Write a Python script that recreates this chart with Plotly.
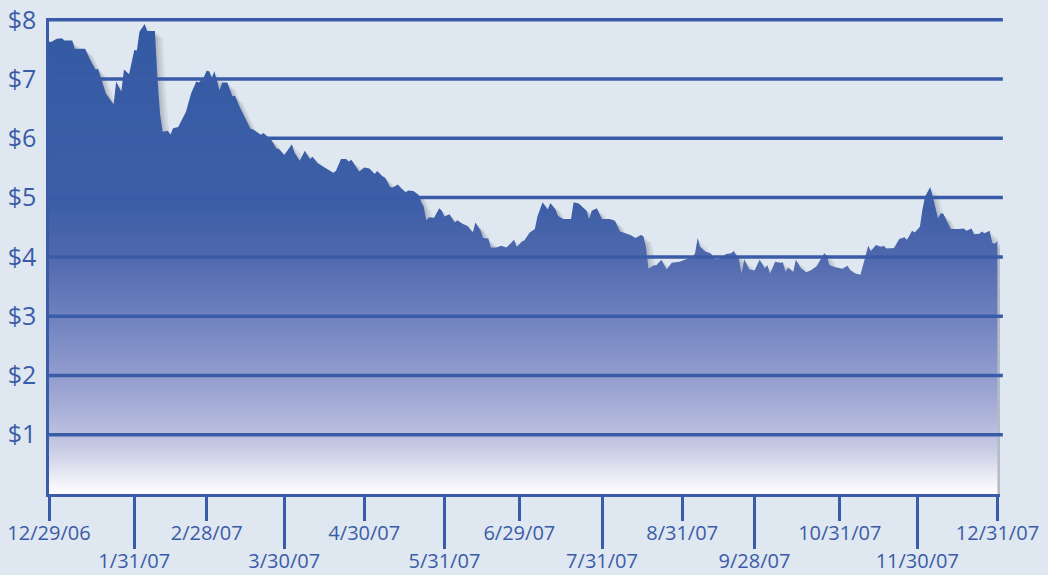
import pandas as pd
import plotly.graph_objects as go

start_date = "2006-12-29"

day_offsets = [0, 1, 3, 5, 6, 9, 10, 14, 16, 18, 19, 20, 22, 25, 26, 27, 28, 29, 31, 33, 34, 35, 37, 38, 41, 42, 43, 44,
               46, 47, 48, 50, 53, 55, 57, 58, 60, 61, 62, 63, 64, 66, 67, 69, 71, 72, 74, 78, 79, 82, 83, 86, 88, 89,
               91, 94, 95, 97, 99, 101, 102, 104, 108, 110, 111, 113, 115, 116, 117, 119, 120, 122, 124, 126, 127, 129,
               130, 132, 133, 135, 136, 138, 139, 141, 143, 144, 145, 146, 147, 149, 151, 152, 153, 155, 157, 158, 160,
               162, 164, 165, 167, 168, 170, 171, 173, 175, 176, 177, 178, 180, 181, 183, 184, 186, 188, 189, 191, 193,
               194, 196, 197, 199, 202, 203, 205, 208, 209, 210, 212, 214, 217, 219, 221, 223, 225, 227, 229, 230, 231,
               232, 234, 235, 237, 239, 241, 244, 246, 247, 249, 250, 251, 252, 254, 256, 258, 260, 262, 264, 265, 266,
               267, 268, 269, 271, 273, 275, 277, 278, 279, 281, 283, 284, 285, 286, 288, 289, 291, 293, 295, 297, 299,
               300, 301, 302, 304, 307, 309, 310, 312, 314, 316, 317, 318, 320, 322, 323, 324, 327, 329, 331, 332, 334,
               335, 337, 338, 339, 341, 342, 344, 345, 346, 348, 349, 352, 354, 355, 357, 358, 360, 361, 362, 364, 365,
               366, 367]

prices = [7.63, 7.63, 7.68, 7.69, 7.65, 7.65, 7.51, 7.51, 7.32, 7.16, 7.17, 7.02, 6.76, 6.57, 6.96, 6.87, 6.79, 7.16,
          7.08, 7.49, 7.48, 7.80, 7.93, 7.81, 7.81, 7.00, 6.40, 6.11,
          6.13, 6.06, 6.17, 6.19, 6.45, 6.76, 6.96, 6.94, 7.04, 7.14, 7.13, 7.02, 7.13, 6.81, 6.94, 6.94, 6.71, 6.72,
          6.51, 6.16, 6.15, 6.06, 6.09, 5.97, 5.83, 5.82,
          5.72, 5.90, 5.76, 5.62, 5.79, 5.65, 5.69, 5.58, 5.48, 5.42, 5.45, 5.65, 5.65, 5.61, 5.64, 5.52, 5.44, 5.51,
          5.49, 5.40, 5.45, 5.36,
          5.34, 5.18, 5.17, 5.22, 5.17, 5.09, 5.12, 5.11, 5.05, 4.93, 4.85, 4.62, 4.67, 4.66, 4.82, 4.78, 4.68, 4.72,
          4.58, 4.62, 4.56,
          4.52, 4.41, 4.58, 4.45, 4.32, 4.31, 4.16, 4.16, 4.19, 4.18, 4.16, 4.20, 4.29, 4.17, 4.26, 4.28, 4.41, 4.47,
          4.68, 4.92, 4.80,
          4.91, 4.80, 4.69, 4.64, 4.64, 4.92, 4.90, 4.78, 4.64, 4.78, 4.82, 4.64, 4.64, 4.61, 4.43, 4.40, 4.37, 4.32,
          4.37, 4.35, 4.17,
          3.80, 3.86, 3.86, 3.95, 3.79, 3.90, 3.92, 3.96, 3.97, 3.99, 4.06, 4.32, 4.17, 4.09, 4.06, 3.96, 3.98, 4.05,
          4.06, 4.10, 4.02,
          3.95, 3.72, 3.96, 3.79, 3.77, 3.95, 3.81, 3.86, 3.72, 3.92, 3.90, 3.91, 3.75, 3.82, 3.75, 3.95, 3.81, 3.74,
          3.78, 3.84, 3.98,
          4.06, 4.02, 3.86, 3.83, 3.80, 3.85, 3.78, 3.72, 3.70, 4.02, 4.19, 4.10, 4.20, 4.17, 4.19, 4.14, 4.15, 4.30,
          4.33, 4.29, 4.44,
          4.41, 4.51, 4.80, 5.02, 5.18, 5.02, 4.65, 4.73, 4.73, 4.57, 4.47, 4.47, 4.48, 4.44, 4.48, 4.38, 4.39, 4.43,
          4.40, 4.44, 4.24,
          4.22, 4.27]

upper_tick_dates = ["2006-12-29", "2007-02-28", "2007-04-30", "2007-06-29", "2007-08-31", "2007-10-31", "2007-12-31"]
upper_tick_labels = ["12/29/06", "2/28/07", "4/30/07", "6/29/07", "8/31/07", "10/31/07", "12/31/07"]
lower_tick_dates = ["2007-01-31", "2007-03-30", "2007-05-31", "2007-07-31", "2007-09-28", "2007-11-30"]
lower_tick_labels = ["1/31/07", "3/30/07", "5/31/07", "7/31/07", "9/28/07", "11/30/07"]
y_tick_values = [1, 2, 3, 4, 5, 6, 7, 8]
y_tick_labels = ["$1", "$2", "$3", "$4", "$5", "$6", "$7", "$8"]

BLUE = "#3a5ca8"
BG = "#dfe7f0"
FONT = "Open Sans"
x_range = ["2006-12-29", "2008-01-01"]
y_range = [0, 8.03]

dates = pd.Timestamp(start_date) + pd.to_timedelta(day_offsets, unit="D")

fig = go.Figure()

# soft drop shadow built from the same series, nudged right/down
for shift_days, drop, alpha in [(3, 0.11, 0.07), (2, 0.08, 0.08), (1, 0.04, 0.10)]:
    fig.add_trace(go.Scatter(
        x=dates + pd.Timedelta(days=shift_days),
        y=[p - drop for p in prices],
        mode="lines", line=dict(width=0, shape="linear"),
        fill="tozeroy", fillcolor=f"rgba(40,45,60,{alpha})",
        hoverinfo="skip", showlegend=False,
    ))

fig.add_trace(go.Scatter(
    x=dates, y=prices, mode="lines",
    line=dict(width=0, color="#345aa3"),
    fill="tozeroy",
    fillgradient=dict(
        type="vertical", start=0, stop=8,
        colorscale=[[0.0, "#ffffff"], [0.03, "#eeeff7"], [0.1, "#c5c9e3"], [0.2, "#a1a9d4"],
                    [0.35, "#7586c2"], [0.5, "#5068ad"], [0.6, "#3e5fa8"], [1.0, "#335aa3"]],
    ),
    showlegend=False,
))

for v in y_tick_values:
    fig.add_shape(type="line", xref="paper", x0=0, x1=1.003, yref="y", y0=v, y1=v,
                  line=dict(color=BLUE, width=3.5), layer="above")

fig.update_layout(
    width=1048, height=575,
    margin=dict(l=49, r=48, t=18, b=81, autoexpand=False),
    paper_bgcolor=BG, plot_bgcolor=BG,
    showlegend=False,
    font=dict(family=FONT, color=BLUE),
    xaxis=dict(
        type="date", range=x_range, showgrid=False, zeroline=False, automargin=False,
        showline=True, linecolor=BLUE, linewidth=3,
        ticks="outside", ticklen=24, tickwidth=3, tickcolor=BLUE,
        tickvals=upper_tick_dates, ticktext=upper_tick_labels,
        tickfont=dict(family=FONT, size=20, color=BLUE),
        ticklabelstandoff=-5,
    ),
    xaxis2=dict(
        type="date", range=x_range, overlaying="x", anchor="y", side="bottom",
        showgrid=False, zeroline=False, showline=False, automargin=False,
        ticks="outside", ticklen=54, tickwidth=3, tickcolor=BLUE,
        tickvals=lower_tick_dates, ticktext=lower_tick_labels,
        tickfont=dict(family=FONT, size=20, color=BLUE),
        ticklabelstandoff=-5,
    ),
    yaxis=dict(
        range=y_range, showgrid=False, zeroline=False, automargin=False,
        showline=True, linecolor=BLUE, linewidth=2.5,
        tickvals=y_tick_values, ticktext=y_tick_labels,
        tickfont=dict(family=FONT, size=25, color=BLUE),
        ticklabelstandoff=5,
    ),
)

# dummy trace so the second x axis is drawn
fig.add_trace(go.Scatter(x=[dates[0]], y=[None], xaxis="x2", yaxis="y",
                         mode="lines", showlegend=False, hoverinfo="skip"))

fig.write_html("out.html", config={"displayModeBar": False},
               post_script="document.body.style.margin='0';")
